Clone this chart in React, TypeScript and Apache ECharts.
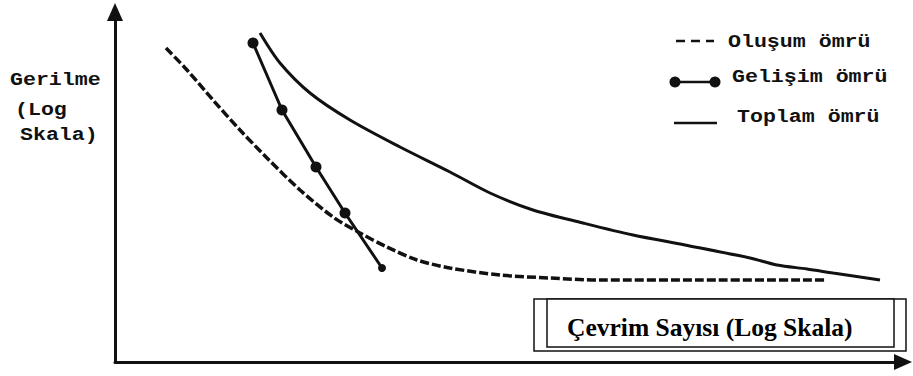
import React, { useEffect, useRef } from "react";
import * as echarts from "echarts";

// Schematic S-N style chart, arbitrary units (log stress vs log cycles)
const olusumX = [51, 72, 98, 125, 152, 185, 218, 245, 272, 302, 335, 385, 435, 485, 585, 711];
const olusumY = [314, 292, 262, 232, 204, 172, 145, 129, 115, 102, 94, 87, 84, 82, 82, 82];

const gelisimX = [138, 167, 201, 230, 267];
const gelisimY = [319, 252, 195, 149, 94];

const toplamX = [145, 165, 195, 235, 285, 335, 375, 418, 468, 518, 570, 635, 662, 692, 718, 765];
const toplamY = [329, 299, 269, 242, 215, 190, 169, 152, 139, 127, 117, 104, 97, 93, 89, 82];

const seriesNames = ["Oluşum ömrü", "Gelişim ömrü", "Toplam ömrü"];
const yAxisLabelLines = ["Gerilme", "(Log", "Skala)"];
const xAxisTitle = "Çevrim Sayısı (Log Skala)";

const zip = (xs: number[], ys: number[]) => xs.map((x, i) => [x, ys[i]]);

export default function App() {
  const ref = useRef<HTMLDivElement>(null);
  useEffect(() => {
    if (!ref.current) return;
    document.body.style.margin = "0";
    const chart = echarts.init(ref.current, undefined, { renderer: "svg" });
    const mono = "'Liberation Mono', 'DejaVu Sans Mono', monospace";
    const ink = "#111";
    const monoText = (text: string, x: number, y: number) => ({
      type: "text",
      x,
      y,
      scaleX: 1.2,
      style: {
        text,
        font: `bold 18px ${mono}`,
        fill: ink,
        textVerticalAlign: "middle",
        textAlign: "left",
      },
    });
    const gelisimData = zip(gelisimX, gelisimY).map((p, i, arr) => ({
      value: p,
      symbolSize: i === arr.length - 1 ? 8 : 11,
    }));
    chart.setOption({
      animation: false,
      backgroundColor: "#fff",
      grid: { left: 115, right: 10, top: 12, bottom: 14 },
      xAxis: {
        type: "value",
        min: 0,
        max: 788,
        axisLine: {
          show: true,
          symbol: ["none", "triangle"],
          symbolSize: [16, 18],
          lineStyle: { color: ink, width: 3 },
        },
        axisTick: { show: false },
        axisLabel: { show: false },
        splitLine: { show: false },
      },
      yAxis: {
        type: "value",
        min: 0,
        max: 350,
        axisLine: {
          show: true,
          symbol: ["none", "triangle"],
          symbolSize: [16, 18],
          lineStyle: { color: ink, width: 3 },
        },
        axisTick: { show: false },
        axisLabel: { show: false },
        splitLine: { show: false },
      },
      series: [
        {
          name: seriesNames[2],
          type: "line",
          data: zip(toplamX, toplamY),
          smooth: 0.3,
          showSymbol: false,
          lineStyle: { color: ink, width: 3 },
        },
        {
          name: seriesNames[0],
          type: "line",
          data: zip(olusumX, olusumY),
          smooth: 0.3,
          showSymbol: false,
          lineStyle: { color: ink, width: 3.5, type: [9, 3] },
        },
        {
          name: seriesNames[1],
          type: "line",
          data: gelisimData,
          symbol: "circle",
          itemStyle: { color: ink },
          lineStyle: { color: ink, width: 3 },
        },
      ],
      graphic: [
        // Y axis title
        monoText(yAxisLabelLines[0], 10, 80),
        monoText(yAxisLabelLines[1], 15, 110),
        monoText(yAxisLabelLines[2], 20, 135),
        // Legend
        {
          type: "line",
          shape: { x1: 676, y1: 41, x2: 714, y2: 41 },
          style: { stroke: ink, lineWidth: 2.5, lineDash: [9, 6] },
        },
        monoText(seriesNames[0], 728, 42),
        {
          type: "line",
          shape: { x1: 675, y1: 82, x2: 715, y2: 82 },
          style: { stroke: ink, lineWidth: 2.5 },
        },
        { type: "circle", shape: { cx: 675, cy: 82, r: 5.5 }, style: { fill: ink } },
        { type: "circle", shape: { cx: 715, cy: 82, r: 5.5 }, style: { fill: ink } },
        monoText(seriesNames[1], 732, 77),
        {
          type: "line",
          shape: { x1: 674, y1: 123, x2: 717, y2: 123 },
          style: { stroke: ink, lineWidth: 2.5 },
        },
        monoText(seriesNames[2], 737, 117),
        // X axis title box
        {
          type: "rect",
          shape: { x: 534, y: 299, width: 372, height: 52 },
          style: { fill: "#fff", stroke: ink, lineWidth: 1.5 },
        },
        {
          type: "rect",
          shape: { x: 547, y: 299, width: 347, height: 48 },
          style: { fill: "#fff", stroke: ink, lineWidth: 1.5 },
        },
        {
          type: "text",
          x: 567,
          y: 327,
          style: {
            text: xAxisTitle,
            font: "bold 25.5px 'Liberation Serif', 'Times New Roman', serif",
            fill: "#000",
            textVerticalAlign: "middle",
            textAlign: "left",
          },
        },
      ],
    });
    return () => chart.dispose();
  }, []);
  return <div ref={ref} style={{ width: 913, height: 376 }} />;
}
